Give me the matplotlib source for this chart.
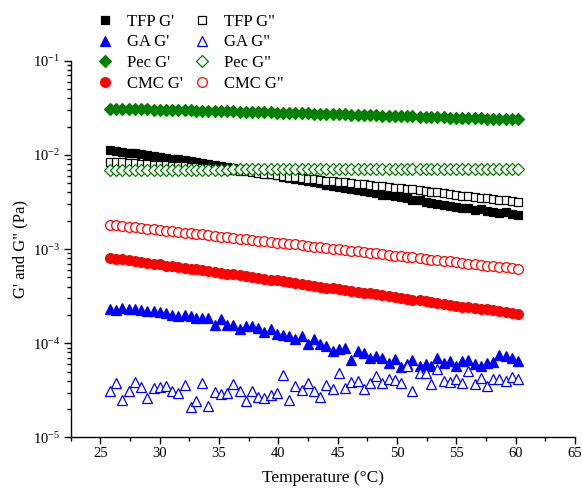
import numpy as np
import matplotlib
matplotlib.use("Agg")
import matplotlib.pyplot as plt
from matplotlib.ticker import LogLocator, LogFormatterSciNotation, MultipleLocator, NullFormatter

plt.rcParams['font.family'] = ['Liberation Serif', 'DejaVu Serif']
plt.rcParams['mathtext.fontset'] = 'custom'
plt.rcParams['mathtext.rm'] = 'Liberation Serif'
plt.rcParams['mathtext.it'] = 'Liberation Serif:italic'
plt.rcParams['mathtext.bf'] = 'Liberation Serif:bold'

# Temperature sweep (°C)
temp = [25.8, 26.3, 26.8, 27.4, 27.9, 28.4, 28.9, 29.5, 30.0, 30.5,
        31.0, 31.5, 32.1, 32.6, 33.1, 33.6, 34.1, 34.7, 35.2, 35.7,
        36.2, 36.8, 37.3, 37.8, 38.3, 38.8, 39.4, 39.9, 40.4, 40.9,
        41.4, 42.0, 42.5, 43.0, 43.5, 44.0, 44.6, 45.1, 45.6, 46.1,
        46.7, 47.2, 47.7, 48.2, 48.7, 49.3, 49.8, 50.3, 50.8, 51.3,
        51.9, 52.4, 52.9, 53.4, 54.0, 54.5, 55.0, 55.5, 56.0, 56.6,
        57.1, 57.6, 58.1, 58.6, 59.2, 59.7, 60.2]

# TFP moduli (x 1e-3 Pa)
tfp_g1 = [11.3, 11.1, 10.8, 10.6, 10.4, 10.2, 9.95, 9.75, 9.55, 9.35,
          9.15, 8.95, 8.75, 8.55, 8.35, 8.15, 7.95, 7.8, 7.6, 7.45,
          7.3, 7.1, 6.9, 6.75, 6.55, 6.4, 6.2, 6.05, 5.9, 5.75,
          5.6, 5.45, 5.3, 5.15, 5.0, 4.85, 4.7, 4.6, 4.45, 4.35,
          4.25, 4.15, 4.0, 3.9, 3.8, 3.75, 3.65, 3.55, 3.5, 3.35,
          3.3, 3.2, 3.1, 3.05, 2.95, 2.85, 2.8, 2.7, 2.75, 2.6,
          2.65, 2.55, 2.5, 2.4, 2.45, 2.35, 2.3]
tfp_g2 = [8.5, 8.4, 8.35, 8.25, 8.15, 8.1, 8.0, 7.9, 7.85, 7.75,
          7.7, 7.6, 7.55, 7.45, 7.4, 7.3, 7.25, 7.15, 7.1, 7.0,
          6.9, 6.8, 6.7, 6.6, 6.45, 6.35, 6.25, 6.1, 6.0, 5.9,
          5.8, 5.7, 5.6, 5.5, 5.45, 5.35, 5.3, 5.2, 5.1, 5.05,
          4.95, 4.9, 4.8, 4.7, 4.65, 4.55, 4.5, 4.45, 4.35, 4.3,
          4.2, 4.15, 4.05, 4.0, 3.9, 3.85, 3.75, 3.7, 3.65, 3.55,
          3.5, 3.45, 3.4, 3.35, 3.3, 3.25, 3.2]

# GA moduli (x 1e-5 Pa)
ga_g1 = [23.4, 22.5, 23.6, 22.9, 23.2, 22.5, 22.3, 21.9, 21.6, 20.8,
         20.1, 19.4, 20.2, 19.4, 18.7, 18.7, 18.7, 15.8, 17.9, 15.6,
         15.8, 14.3, 15.2, 15.2, 14.6, 13.2, 14.3, 12.7, 12.4, 12.1,
         11.0, 11.9, 9.73, 11.0, 9.73, 9.33, 8.26, 8.61, 8.97, 6.64,
         8.26, 7.94, 7.03, 7.31, 7.03, 6.22, 6.87, 5.65, 5.97, 6.64,
         5.73, 5.97, 5.73, 7.03, 6.22, 6.47, 5.73, 6.47, 6.64, 5.97,
         5.73, 6.22, 6.38, 7.44, 7.31, 7.03, 6.47]
ga_g2 = [3.12, 3.83, 2.50, 3.12, 3.88, 3.47, 2.65, 3.39, 3.47, 3.52,
         3.09, 3.00, 3.58, 2.13, 2.43, 3.76, 2.16, 3.07, 2.88, 3.00,
         3.67, 3.09, 2.44, 3.12, 2.69, 2.65, 2.85, 3.00, 4.60, 2.50,
         3.52, 3.17, 3.83, 3.12, 2.72, 3.61, 3.30, 4.88, 3.39, 3.88,
         3.95, 3.25, 3.76, 4.50, 3.83, 4.15, 4.08, 3.83, 5.73, 3.12,
         4.80, 4.80, 3.67, 5.30, 3.98, 3.88, 4.22, 3.83, 5.08, 3.67,
         4.32, 3.52, 4.15, 4.15, 3.98, 4.43, 4.22]

# Pectin moduli (G' x 1e-2 Pa, G'' x 1e-3 Pa)
pec_g1 = [3.10, 3.09, 3.08, 3.07, 3.06, 3.05, 3.04, 3.03, 3.02, 3.01,
          3.00, 2.99, 2.98, 2.97, 2.96, 2.95, 2.94, 2.93, 2.92, 2.91,
          2.90, 2.89, 2.88, 2.86, 2.85, 2.84, 2.83, 2.82, 2.81, 2.80,
          2.78, 2.77, 2.76, 2.75, 2.74, 2.73, 2.71, 2.70, 2.69, 2.68,
          2.67, 2.65, 2.64, 2.63, 2.62, 2.61, 2.59, 2.58, 2.57, 2.56,
          2.55, 2.53, 2.52, 2.51, 2.50, 2.49, 2.48, 2.47, 2.46, 2.45,
          2.44, 2.43, 2.42, 2.41, 2.40, 2.39, 2.38]
pec_g2 = [7.0, 7.0, 7.0, 7.0, 7.0, 7.0, 7.0, 7.0, 7.0, 7.0,
          7.0, 7.0, 7.0, 7.0, 7.0, 7.0, 7.0, 7.0, 7.0, 7.0,
          7.1, 7.1, 7.1, 7.1, 7.1, 7.1, 7.1, 7.1, 7.1, 7.1,
          7.1, 7.1, 7.1, 7.1, 7.1, 7.1, 7.1, 7.1, 7.1, 7.1,
          7.1, 7.1, 7.1, 7.1, 7.1, 7.1, 7.1, 7.1, 7.1, 7.1,
          7.1, 7.1, 7.1, 7.1, 7.1, 7.1, 7.1, 7.1, 7.1, 7.1,
          7.1, 7.1, 7.1, 7.1, 7.1, 7.1, 7.1]

# CMC moduli (x 1e-4 Pa)
cmc_g1 = [8.1, 7.9, 7.8, 7.6, 7.5, 7.3, 7.2, 7.0, 6.9, 6.7,
          6.6, 6.5, 6.3, 6.2, 6.1, 6.0, 5.8, 5.7, 5.6, 5.5,
          5.4, 5.3, 5.2, 5.05, 4.95, 4.85, 4.75, 4.65, 4.55, 4.45,
          4.4, 4.3, 4.2, 4.1, 4.0, 3.9, 3.85, 3.75, 3.7, 3.6,
          3.5, 3.45, 3.4, 3.3, 3.25, 3.2, 3.1, 3.05, 2.95, 2.9,
          2.85, 2.8, 2.75, 2.65, 2.6, 2.55, 2.5, 2.45, 2.4, 2.35,
          2.3, 2.3, 2.25, 2.2, 2.15, 2.1, 2.05]
cmc_g2 = [18.2, 17.9, 17.6, 17.3, 17.0, 16.8, 16.5, 16.2, 16.0, 15.7,
          15.5, 15.2, 15.0, 14.7, 14.5, 14.3, 14.0, 13.8, 13.6, 13.4,
          13.1, 12.9, 12.7, 12.5, 12.3, 12.1, 11.9, 11.7, 11.5, 11.3,
          11.2, 11.0, 10.8, 10.6, 10.5, 10.3, 10.1, 9.95, 9.8, 9.6,
          9.45, 9.3, 9.15, 9.0, 8.85, 8.7, 8.55, 8.4, 8.3, 8.15,
          8.0, 7.9, 7.75, 7.6, 7.5, 7.4, 7.25, 7.15, 7.0, 6.9,
          6.8, 6.7, 6.6, 6.5, 6.4, 6.3, 6.2]

fig = plt.figure(figsize=(5.82, 4.88), dpi=100)
ax = fig.add_axes([0.1215, 0.1035, 0.8665, 0.772])

T = np.array(temp)
series = [
    ("TFP G'",  np.array(tfp_g1) * 1e-3, 's', 'black', True, 6.0),
    ("GA G'",   np.array(ga_g1) * 1e-5,  '^', 'blue',  True, 7.5),
    ("Pec G'",  np.array(pec_g1) * 1e-2, 'D', 'green', True, 6.0),
    ("CMC G'",  np.array(cmc_g1) * 1e-4, 'o', 'red',   True, 7.0),
    ('TFP G"',  np.array(tfp_g2) * 1e-3, 's', 'black', False, 6.0),
    ('GA G"',   np.array(ga_g2) * 1e-5,  '^', 'blue',  False, 7.5),
    ('Pec G"',  np.array(pec_g2) * 1e-3, 'D', 'green', False, 6.0),
    ('CMC G"',  np.array(cmc_g2) * 1e-4, 'o', 'red',   False, 7.0),
]

handles = []
for label, y, mk, col, filled, ms in series:
    h, = ax.plot(T, y, linestyle='none', marker=mk, markersize=ms,
                 markeredgecolor=col, markerfacecolor=col if filled else 'white',
                 markeredgewidth=0.9, label=label)
    handles.append(h)

ax.set_yscale('log')
ax.set_xlim(22.5, 65)
ax.set_ylim(1e-5, 1e-1)

ax.xaxis.set_major_locator(MultipleLocator(5))
ax.xaxis.set_minor_locator(MultipleLocator(2.5))
ax.yaxis.set_major_locator(LogLocator(base=10))
ax.yaxis.set_major_formatter(LogFormatterSciNotation())
ax.yaxis.set_minor_locator(LogLocator(base=10, subs=np.arange(2, 10)))
ax.yaxis.set_minor_formatter(NullFormatter())

for s in ['top', 'right']:
    ax.spines[s].set_visible(False)
for s in ['left', 'bottom']:
    ax.spines[s].set_linewidth(1.0)

ax.tick_params(which='major', direction='out', length=5, width=1.0, labelsize=10.5)
ax.tick_params(which='minor', direction='out', length=3, width=1.0)
ax.tick_params(axis='x', pad=2)
ax.tick_params(axis='y', pad=2.5)

ax.set_xlabel('Temperature (°C)', fontsize=12.5, labelpad=7)
ax.set_ylabel('G\' and G" (Pa)', fontsize=12, labelpad=3)

leg = ax.legend(handles=handles, ncol=2, loc='upper left',
                bbox_to_anchor=(97 / 582, 1 - 14 / 488), bbox_transform=fig.transFigure,
                frameon=False, fontsize=12, handlelength=1.0, handletextpad=0.82,
                columnspacing=0.64, labelspacing=0.27, borderpad=0.0, borderaxespad=0.0)

fig.savefig('out.png', dpi=100)
